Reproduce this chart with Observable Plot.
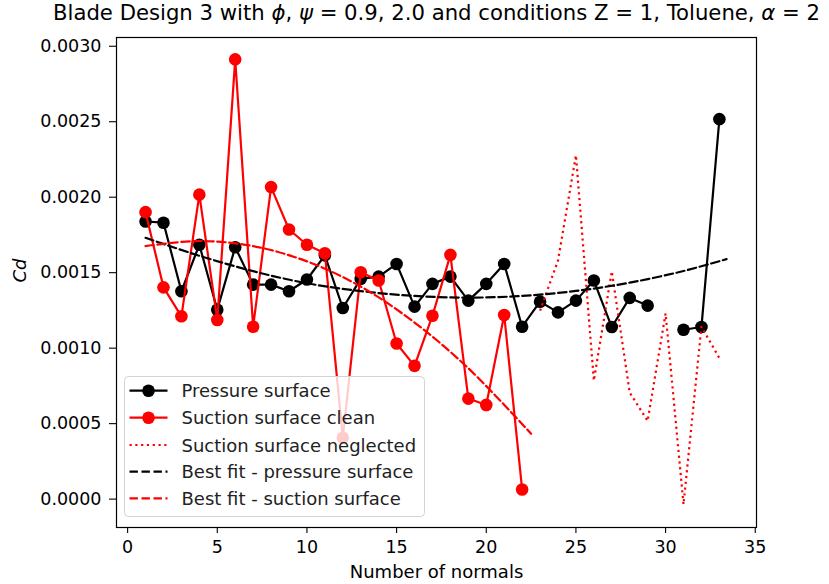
<!DOCTYPE html>
<html><head><meta charset="utf-8">
<script src="https://cdn.jsdelivr.net/npm/d3@7"></script>
<script src="https://cdn.jsdelivr.net/npm/@observablehq/plot@0.6"></script>
<style>
body{margin:0;background:#fff;}
#wrap{position:relative;width:829px;height:584px;font-family:"DejaVu Sans",sans-serif;}
#legend{position:absolute;left:124px;top:376px;overflow:visible;}
</style></head><body><div id="wrap"></div>
<script>
const titleParts = [
  {t: "Blade Design 3 with ", i: false},
  {t: "\u03D5", i: true},
  {t: ", ", i: false},
  {t: "\u03C8", i: true},
  {t: " = 0.9, 2.0 and conditions Z = 1, Toluene, ", i: false},
  {t: "\u03B1", i: true},
  {t: " = 2", i: false}
];
const titleText = titleParts.map(p => p.t).join("");
const xLabel = "Number of normals";
const yLabel = "Cd";

const pressureX = [1,2,3,4,5,6,7,8,9,10,11,12,13,14,15,16,17,18,19,20,21,22,23,24,25,26,27,28,29,30,31,32,33];
const pressureY = [0.001839,0.001831,0.001377,0.001685,0.001255,0.001669,0.001421,0.001421,0.001377,0.001455,0.001615,0.001266,0.001459,0.001474,0.001558,0.001275,0.001426,0.001474,0.001315,0.001426,0.001558,0.001142,0.001308,0.001237,0.001315,0.001448,0.001140,0.001333,0.001282,null,0.001122,0.001140,0.002517];

const cleanX = [1,2,3,4,5,6,7,8,9,10,11,12,13,14,15,16,17,18,19,20,21,22];
const cleanY = [0.001901,0.001403,0.001211,0.002017,0.001187,0.002913,0.001142,0.002067,0.001786,0.001685,0.001629,0.000407,0.001503,0.001448,0.001031,0.000883,0.001215,0.001618,0.000666,0.000624,0.001220,0.000064];

const neglectedX = [23,24,25,26,27,28,29,30,31,32,33];
const neglectedY = [0.001248,0.001580,0.002278,0.000785,0.001509,0.000706,0.000518,0.001230,-0.000035,0.001142,0.000934];

const pFitX = [1,4,7,10,13,16,19,22,25,28,31,33.4];
const pFitY = [0.001731,0.001612,0.001510,0.001430,0.001378,0.001346,0.001335,0.001346,0.001379,0.001434,0.001511,0.001590];

const sFitX = [1,4,7,10,13,16,19,22.5];
const sFitY = [0.001676,0.001710,0.001676,0.001575,0.001408,0.001170,0.000867,0.000433];

const xTicks = [0,5,10,15,20,25,30,35];
const yTicks = [0,0.0005,0.0010,0.0015,0.0020,0.0025,0.0030];

const zip = (xs, ys) => xs.map((x, i) => ({x, y: ys[i]}));
const pressure = zip(pressureX, pressureY);
const clean = zip(cleanX, cleanY);
const neglected = zip(neglectedX, neglectedY);
const pFit = zip(pFitX, pFitY);
const sFit = zip(sFitX, sFitY);

const RED = "#ff0000";
const LW = 2.2;
const FS = 17.5;

const chart = Plot.plot({
  width: 829,
  height: 584,
  marginLeft: 116,
  marginRight: 73,
  marginTop: 37,
  marginBottom: 57,
  style: {fontFamily: "DejaVu Sans, sans-serif", fontSize: FS + "px", background: "white", color: "black"},
  x: {domain: [-0.62, 35.07], ticks: xTicks, tickFormat: d3.format("d")},
  y: {domain: [-0.000188, 0.003058], ticks: yTicks, tickFormat: d3.format(".4f")},
  marks: [
    Plot.axisX({ticks: xTicks, tickFormat: d3.format("d"), tickSize: 6, tickPadding: 7, label: null, strokeWidth: 1.1}),
    Plot.axisY({ticks: yTicks, tickFormat: d3.format(".4f"), tickSize: 7, tickPadding: 8, label: null, strokeWidth: 1.1}),
    Plot.line(pressure, {x: "x", y: "y", stroke: "black", strokeWidth: LW}),
    Plot.dot(pressure, {x: "x", y: "y", fill: "black", r: 6.3}),
    Plot.line(clean, {x: "x", y: "y", stroke: RED, strokeWidth: LW}),
    Plot.dot(clean, {x: "x", y: "y", fill: RED, r: 6.3}),
    Plot.line(neglected, {x: "x", y: "y", stroke: RED, strokeWidth: LW, strokeDasharray: "2.2,3.6", strokeLinecap: "butt"}),
    Plot.line(pFit, {x: "x", y: "y", stroke: "black", strokeWidth: LW, strokeDasharray: "8.4,3.6", curve: "catmull-rom"}),
    Plot.line(sFit, {x: "x", y: "y", stroke: RED, strokeWidth: LW, strokeDasharray: "8.4,3.6", curve: "catmull-rom"}),
    Plot.frame({stroke: "black", strokeWidth: 1.2}),
    Plot.text([titleText], {frameAnchor: "top", lineAnchor: "middle", dy: -24, fontSize: 21.2, fill: "black"}),
    Plot.text([xLabel], {frameAnchor: "bottom", lineAnchor: "middle", dy: 45, fontSize: 18, fill: "black"}),
    Plot.text([yLabel], {frameAnchor: "left", lineAnchor: "middle", dx: -96, rotate: -90, fontSize: 18, fontStyle: "italic", fill: "black"})
  ]
});
document.getElementById("wrap").appendChild(chart);

// italic Greek symbols in the title, as in mathtext
d3.select(chart).selectAll("text").filter(function() { return this.textContent === titleText; })
  .each(function() {
    const el = d3.select(this);
    el.text(null);
    titleParts.forEach(p => {
      const ts = el.append("tspan").text(p.t);
      if (p.i) ts.attr("font-style", "italic");
    });
  });

// Legend (overlay)
const legendItems = [
  {label: "Pressure surface", color: "black", dash: null, marker: true},
  {label: "Suction surface clean", color: RED, dash: null, marker: true},
  {label: "Suction surface neglected", color: RED, dash: "2.2,3.6", marker: false},
  {label: "Best fit - pressure surface", color: "black", dash: "8.4,3.6", marker: false},
  {label: "Best fit - suction surface", color: RED, dash: "8.4,3.6", marker: false}
];
const ns = "http://www.w3.org/2000/svg";
const lg = document.createElementNS(ns, "svg");
lg.setAttribute("id", "legend");
lg.setAttribute("width", 301);
lg.setAttribute("height", 141);
const box = document.createElementNS(ns, "rect");
box.setAttribute("x", 0.5); box.setAttribute("y", 0.5);
box.setAttribute("width", 300); box.setAttribute("height", 140);
box.setAttribute("rx", 4);
box.setAttribute("fill", "rgba(255,255,255,0.8)");
box.setAttribute("stroke", "#d3d3d3");
lg.appendChild(box);
const rowY = [14.7, 41.7, 69, 95.7, 122.3];
legendItems.forEach((it, i) => {
  const y = rowY[i];
  const ln = document.createElementNS(ns, "line");
  ln.setAttribute("x1", 5.5); ln.setAttribute("x2", 43.5);
  ln.setAttribute("y1", y); ln.setAttribute("y2", y);
  ln.setAttribute("stroke", it.color); ln.setAttribute("stroke-width", LW);
  if (it.dash) ln.setAttribute("stroke-dasharray", it.dash);
  lg.appendChild(ln);
  if (it.marker) {
    const c = document.createElementNS(ns, "circle");
    c.setAttribute("cx", 24.5); c.setAttribute("cy", y); c.setAttribute("r", 6.3);
    c.setAttribute("fill", it.color);
    lg.appendChild(c);
  }
  const t = document.createElementNS(ns, "text");
  t.setAttribute("x", 57.5); t.setAttribute("y", y);
  t.setAttribute("dominant-baseline", "central");
  t.setAttribute("font-family", "DejaVu Sans, sans-serif");
  t.setAttribute("font-size", "18px");
  t.setAttribute("fill", "#222");
  t.textContent = it.label;
  lg.appendChild(t);
});
document.getElementById("wrap").appendChild(lg);
</script>
</body></html>
